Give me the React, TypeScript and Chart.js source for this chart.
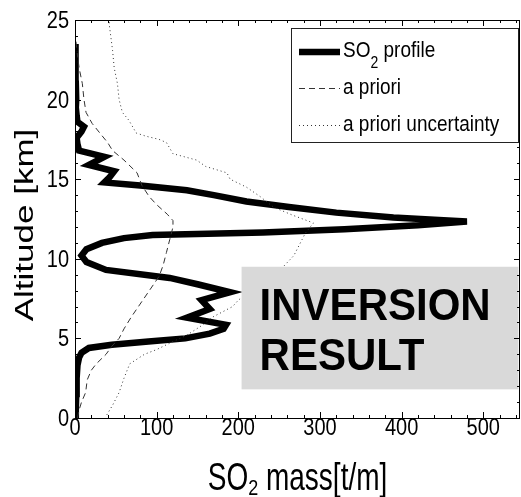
import React, { useEffect, useRef } from "react";
import { Chart, registerables } from "chart.js";

Chart.register(...registerables);

// ---- data (altitude in km, mass in t/m) ----
const profileAlt = [0, 0.5, 1.5, 2.5, 3.3, 3.8, 4.1, 4.4, 4.6, 4.8, 5.0, 5.3, 5.6, 5.85, 6.3, 6.85, 7.4, 7.9, 8.4, 8.8, 9.3, 9.8, 10.2, 10.6, 11.0, 11.3, 11.5, 11.65, 11.85, 12.1, 12.35, 12.45, 12.6, 12.9, 13.25, 13.6, 14.0, 14.3, 14.6, 14.8, 15.1, 15.5, 15.9, 16.4, 16.8, 17.2, 17.6, 18.0, 18.3, 18.6, 19.0, 19.5, 20.0, 21.0, 22.0, 23.0, 23.5];
const profileMass = [1, 1, 1.5, 2, 3, 5, 8, 17, 45, 90, 135, 165, 182, 185, 137, 165, 155, 190, 150, 116, 38, 14, 8, 14, 33, 60, 95, 230, 330, 420, 480, 440, 390, 320, 262, 210, 170, 137, 80, 36, 42, 48, 17, 36, 5, 3, 2, 8, 11, 3, 2, 1, 1.5, 1, 1, 0.5, 0.5];

const aprioriAlt = [0, 0.5, 1.0, 1.6, 2.4, 3.0, 3.4, 4.0, 4.5, 5.0, 5.6, 6.35, 7.1, 8.0, 8.9, 9.6, 10.4, 11.2, 12.0, 12.4, 12.8, 13.4, 13.9, 14.6, 15.4, 16.2, 16.8, 17.3, 17.8, 18.5, 19.2, 20.0, 21.0, 22.0, 23.0, 24.0];
const aprioriMass = [3, 5, 8, 13, 15, 20, 26, 38, 45, 54, 60, 69, 79, 91, 103, 108, 112, 116, 120, 120, 113, 100, 91, 82, 76, 60, 46, 40, 32, 21, 13.5, 11, 9, 5, 2.5, 0.5];

const uncertAlt = [0.2, 0.8, 1.6, 2.5, 3.4, 4.0, 4.3, 4.8, 5.2, 5.8, 6.35, 7.0, 7.4, 8.0, 8.8, 9.5, 10.2, 11.2, 11.6, 12.25, 12.75, 13.25, 13.9, 14.5, 15.0, 15.4, 15.8, 16.2, 16.6, 17.3, 17.5, 17.7, 17.9, 18.7, 19.2, 20.0, 21.0, 22.0, 23.1, 24.7, 25.0];
const uncertMass = [39, 46, 54, 60, 67, 85, 100, 120, 137, 155, 169, 193, 200, 215, 240, 255, 268, 278, 282, 292, 266, 243, 227, 210, 190, 186, 160, 149, 120, 112, 103, 87, 75, 66, 58, 54, 52, 48, 46, 42, 42];

const seriesLabels = ["profile", "a priori", "a priori uncertainty"];
const xTickValues = [0, 100, 200, 300, 400, 500];
const yTickValues = [0, 5, 10, 15, 20, 25];
const boxMass = [204, 543];
const boxAlt = [1.8, 9.5];
const boxLines = ["INVERSION", "RESULT"];

const toPts = (alt: number[], mass: number[]) => alt.map((a, i) => ({ x: mass[i], y: a }));

function txt(ctx: CanvasRenderingContext2D, s: string, x: number, y: number, font: string, sx: number, sy: number, align: CanvasTextAlign = "left") {
  ctx.save();
  ctx.translate(x, y);
  ctx.scale(sx, sy);
  ctx.font = font;
  ctx.textAlign = align;
  ctx.textBaseline = "alphabetic";
  ctx.fillStyle = "#000";
  ctx.fillText(s, 0, 0);
  ctx.restore();
}

const FAM = '"Liberation Sans", Arial, Helvetica, sans-serif';

const overlay = {
  id: "overlay",
  afterDatasetsDraw(chart: any) {
    const ctx: CanvasRenderingContext2D = chart.ctx;
    const { left, right, top, bottom } = chart.chartArea;
    const xs = chart.scales.x;
    const ys = chart.scales.y;

    // gray annotation box
    const bx1 = xs.getPixelForValue(boxMass[0]);
    const bx2 = xs.getPixelForValue(boxMass[1]);
    const by1 = ys.getPixelForValue(boxAlt[1]);
    const by2 = ys.getPixelForValue(boxAlt[0]);
    ctx.save();
    ctx.fillStyle = "#d9d9d9";
    ctx.fillRect(bx1, by1, bx2 - bx1, by2 - by1);
    ctx.restore();
    txt(ctx, boxLines[0], bx1 + 18, by1 + 53, `bold 44px ${FAM}`, 0.955, 1.0);
    txt(ctx, boxLines[1], bx1 + 18, by1 + 103, `bold 44px ${FAM}`, 0.955, 1.0);

    // frame
    ctx.save();
    ctx.strokeStyle = "#000";
    ctx.lineWidth = 1;
    ctx.strokeRect(Math.round(left) + 0.5, Math.round(top) + 0.5, Math.round(right - left) - 1, Math.round(bottom - top));
    // ticks
    ctx.beginPath();
    for (let v = 0; v <= xs.max; v += 20) {
      const px = Math.round(xs.getPixelForValue(v)) + 0.5;
      const len = v % 100 === 0 ? 6 : 3;
      ctx.moveTo(px, bottom);
      ctx.lineTo(px, bottom - len);
      ctx.moveTo(px, top);
      ctx.lineTo(px, top + len);
    }
    for (let v = 0; v <= 25; v += 1) {
      const py = Math.round(ys.getPixelForValue(v)) + 0.5;
      const len = v % 5 === 0 ? 6 : 3;
      ctx.moveTo(left, py);
      ctx.lineTo(left + len, py);
      ctx.moveTo(right, py);
      ctx.lineTo(right - len, py);
    }
    ctx.stroke();
    ctx.restore();

    // tick labels
    const tickFont = `20px ${FAM}`;
    xTickValues.forEach((v) => {
      txt(ctx, String(v), xs.getPixelForValue(v), bottom + 17, tickFont, 1, 1.15, "center");
    });
    yTickValues.forEach((v) => {
      txt(ctx, String(v), left - 6, ys.getPixelForValue(v) + 8, tickFont, 1, 1.15, "right");
    });

    // x title with subscript
    {
      const F = `28px ${FAM}`;
      const Fs = `18px ${FAM}`;
      const sx = 1;
      ctx.save();
      ctx.font = F;
      const w1 = ctx.measureText("SO").width;
      const w3 = ctx.measureText(" mass[t/m]").width;
      ctx.font = Fs;
      const w2 = ctx.measureText("2").width;
      ctx.restore();
      const total = (w1 + w2 + w3) * sx;
      const cx = (left + right) / 2;
      let x0 = cx - total / 2;
      txt(ctx, "SO", x0, 490, F, sx, 1.4);
      txt(ctx, "2", x0 + w1 * sx, 495, Fs, sx, 1.25);
      txt(ctx, " mass[t/m]", x0 + (w1 + w2) * sx, 490, F, sx, 1.4);
    }

    // y title rotated
    ctx.save();
    ctx.translate(33, (top + bottom) / 2 + 6);
    ctx.rotate(-Math.PI / 2);
    ctx.scale(1.4, 1);
    ctx.font = `25px ${FAM}`;
    ctx.textAlign = "center";
    ctx.textBaseline = "alphabetic";
    ctx.fillStyle = "#000";
    ctx.fillText("Altitude [km]", 0, 0);
    ctx.restore();

    // legend
    const lx = 291, ly = 28, lw = 227, lh = 114;
    ctx.save();
    ctx.fillStyle = "#fff";
    ctx.fillRect(lx, ly, lw, lh);
    ctx.strokeStyle = "#222";
    ctx.lineWidth = 1;
    ctx.strokeRect(lx + 0.5, ly + 0.5, lw, lh);
    const rows = [52, 88, 125];
    ctx.strokeStyle = "#000";
    ctx.lineWidth = 6.5;
    ctx.beginPath(); ctx.moveTo(299, rows[0]); ctx.lineTo(340, rows[0]); ctx.stroke();
    ctx.lineWidth = 1;
    ctx.strokeStyle = "#333";
    ctx.setLineDash([6, 4]);
    ctx.beginPath(); ctx.moveTo(299, rows[1] + 0.5); ctx.lineTo(340, rows[1] + 0.5); ctx.stroke();
    ctx.strokeStyle = "#333";
    ctx.setLineDash([1, 3]);
    ctx.beginPath(); ctx.moveTo(299, rows[2] + 0.5); ctx.lineTo(340, rows[2] + 0.5); ctx.stroke();
    ctx.restore();
    const LF = `19px ${FAM}`;
    ctx.save();
    ctx.font = LF;
    const wSO = ctx.measureText("SO").width;
    ctx.font = `14px ${FAM}`;
    const w2 = ctx.measureText("2").width;
    ctx.restore();
    txt(ctx, "SO", 343, rows[0] + 5, LF, 1, 1.15);
    txt(ctx, "2", 343 + wSO, rows[0] + 16, `14px ${FAM}`, 1, 1.15);
    txt(ctx, " " + seriesLabels[0], 343 + wSO + w2, rows[0] + 5, LF, 1, 1.15);
    txt(ctx, seriesLabels[1], 343, rows[1] + 6, LF, 1, 1.15);
    txt(ctx, seriesLabels[2], 343, rows[2] + 6, LF, 1, 1.15);
  },
};

export default function App() {
  const ref = useRef<HTMLCanvasElement | null>(null);
  useEffect(() => {
    document.body.style.margin = "0";
    const canvas = ref.current!;
    const chart = new Chart(canvas, {
      type: "scatter",
      data: {
        datasets: [
          {
            label: seriesLabels[2],
            data: toPts(uncertAlt, uncertMass),
            showLine: true,
            borderColor: "#333",
            borderWidth: 1,
            borderDash: [1, 3],
            pointRadius: 0,
            tension: 0,
          },
          {
            label: seriesLabels[1],
            data: toPts(aprioriAlt, aprioriMass),
            showLine: true,
            borderColor: "#333",
            borderWidth: 1,
            borderDash: [6, 4],
            pointRadius: 0,
            tension: 0,
          },
          {
            label: seriesLabels[0],
            data: toPts(profileAlt, profileMass),
            showLine: true,
            borderColor: "#000",
            borderWidth: 6.5,
            pointRadius: 0,
            tension: 0,
            borderJoinStyle: "miter",
          },
        ],
      },
      options: {
        responsive: false,
        animation: false,
        devicePixelRatio: 1,
        layout: { padding: { top: 20, right: 1, left: 0, bottom: 0 } },
        plugins: { legend: { display: false }, tooltip: { enabled: false } },
        scales: {
          x: {
            type: "linear",
            min: 0,
            max: 545,
            ticks: { display: false },
            grid: { display: false },
            border: { display: false },
            afterFit: (s: any) => { s.height = 79; },
          },
          y: {
            type: "linear",
            min: 0,
            max: 25,
            ticks: { display: false },
            grid: { display: false },
            border: { display: false },
            afterFit: (s: any) => { s.width = 75; },
          },
        },
      },
      plugins: [overlay],
    } as any);
    return () => chart.destroy();
  }, []);
  return <canvas ref={ref} width={521} height={497} style={{ display: "block" }} />;
}
